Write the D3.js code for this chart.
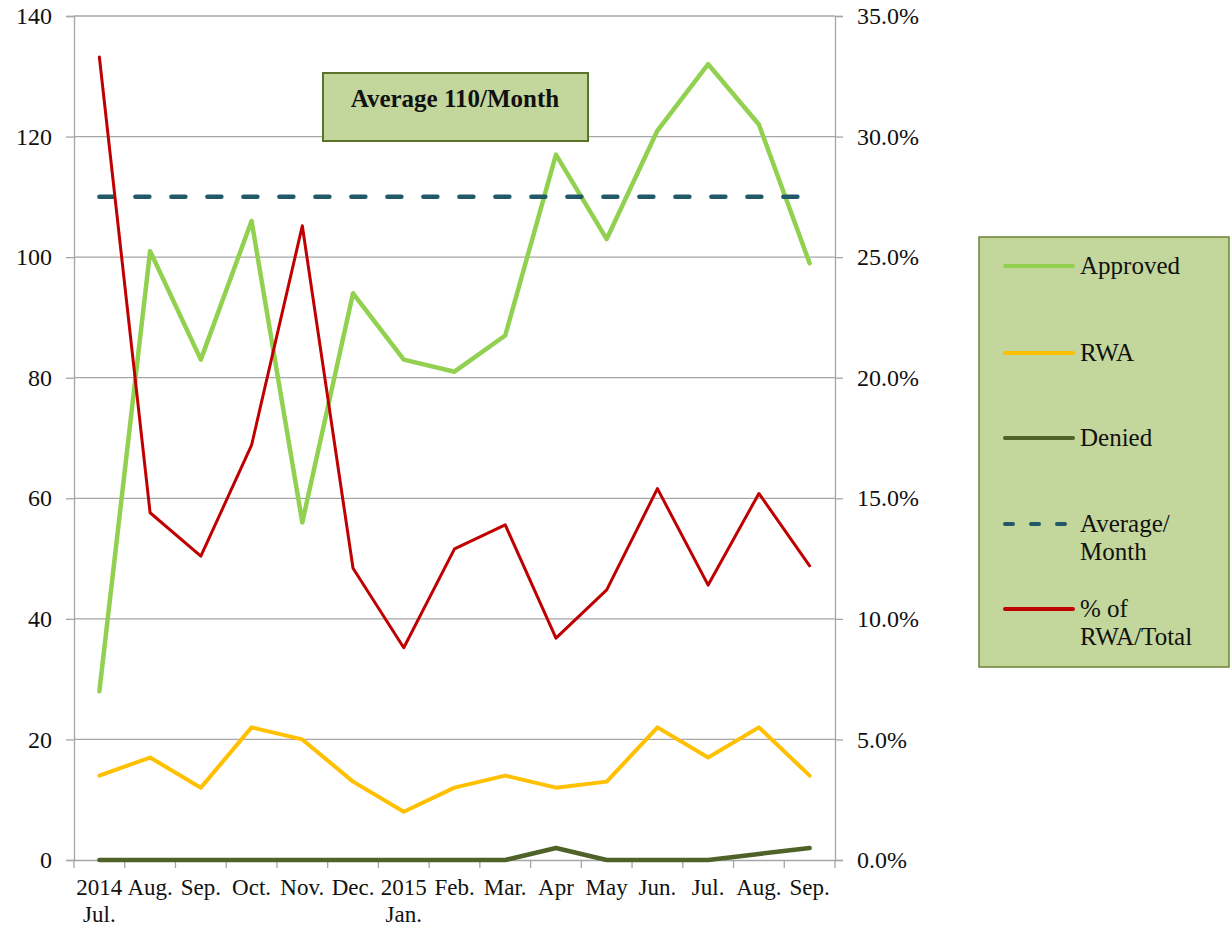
<!DOCTYPE html>
<html>
<head>
<meta charset="utf-8">
<script src="https://cdn.jsdelivr.net/npm/d3@7"></script>
<style>
  body { margin: 0; background: #fff; }
</style>
</head>
<body>
<div id="chart"></div>
<script>
// months, two-line labels
var months = [["2014","Jul."],["Aug."],["Sep."],["Oct."],["Nov."],["Dec."],["2015","Jan."],["Feb."],["Mar."],["Apr"],["May"],["Jun."],["Jul."],["Aug."],["Sep."]];

var approved = [28, 101, 83, 106, 56, 94, 83, 81, 87, 117, 103, 121, 132, 122, 99];
var rwa      = [14, 17, 12, 22, 20, 13, 8, 12, 14, 12, 13, 22, 17, 22, 14];
var denied   = [0, 0, 0, 0, 0, 0, 0, 0, 0, 2, 0, 0, 0, 1, 2];
var average  = 110;
var pctRwa   = [33.3, 14.4, 12.6, 17.2, 26.3, 12.1, 8.8, 12.9, 13.9, 9.2, 11.2, 15.4, 11.4, 15.2, 12.2];

var leftTicks  = [0, 20, 40, 60, 80, 100, 120, 140];
var rightTicks = [0, 5, 10, 15, 20, 25, 30, 35];

var W = 1231, H = 930;
var plotL = 74, plotR = 835, plotT = 16, plotB = 860;
var FONT = "'Liberation Serif'";

var svg = d3.select("#chart").append("svg")
  .attr("width", W).attr("height", H);

var x = d3.scaleBand().domain(d3.range(months.length)).range([plotL, plotR]);
var y = d3.scaleLinear().domain([0, 140]).range([plotB, plotT]);
var y2 = d3.scaleLinear().domain([0, 35]).range([plotB, plotT]);
var cx = function(i) { return x(i) + x.bandwidth() / 2; };

// gridlines
svg.append("g").selectAll("line")
  .data(leftTicks.filter(function(d) { return d > 0; }))
  .enter().append("line")
  .attr("x1", plotL).attr("x2", plotR)
  .attr("y1", function(d) { return y(d); }).attr("y2", function(d) { return y(d); })
  .attr("stroke", "#a6a6a6").attr("stroke-width", 1.3);

// left axis
var ly = svg.append("g").attr("transform", "translate(" + plotL + ",0)")
  .call(d3.axisLeft(y).tickValues(leftTicks).tickSize(8).tickPadding(14));
// right axis
var ry = svg.append("g").attr("transform", "translate(" + plotR + ",0)")
  .call(d3.axisRight(y2).tickValues(rightTicks).tickSize(8).tickPadding(14)
    .tickFormat(function(d) { return d.toFixed(1) + "%"; }));
// bottom axis
var bx = svg.append("g").attr("transform", "translate(0," + plotB + ")")
  .call(d3.axisBottom(x).tickSize(0).tickFormat(""));

[ly, ry, bx].forEach(function(g) {
  g.attr("font-family", null).attr("font-size", null);
  g.select(".domain").attr("stroke", "#a6a6a6").attr("stroke-width", 1.3);
  g.selectAll(".tick line").attr("stroke", "#a6a6a6").attr("stroke-width", 1.3);
  g.selectAll("text").style("font-family", FONT).style("font-size", "24px").attr("fill", "#111");
});

// x ticks at band edges
svg.append("g").selectAll("line")
  .data(d3.range(months.length + 1))
  .enter().append("line")
  .attr("x1", function(i) { return plotL + i * x.step(); })
  .attr("x2", function(i) { return plotL + i * x.step(); })
  .attr("y1", plotB).attr("y2", plotB + 8)
  .attr("stroke", "#a6a6a6").attr("stroke-width", 1.3);

// x labels
var xl = svg.append("g").selectAll("text")
  .data(months).enter().append("text")
  .attr("text-anchor", "middle")
  .style("font-family", FONT).style("font-size", "23px")
  .attr("fill", "#111")
  .attr("x", function(d, i) { return cx(i); })
  .attr("y", 895);
xl.selectAll("tspan").data(function(d) { return d; })
  .enter().append("tspan")
  .attr("x", function() { return d3.select(this.parentNode).attr("x"); })
  .attr("dy", function(d, j) { return j === 0 ? 0 : 27; })
  .text(function(d) { return d; });

// lines
var line = d3.line().x(function(d, i) { return cx(i); });

function drawSeries(vals, scale, color, width) {
  svg.append("path").datum(vals)
    .attr("fill", "none")
    .attr("stroke", color)
    .attr("stroke-width", width)
    .attr("stroke-linejoin", "round")
    .attr("stroke-linecap", "round")
    .attr("d", line.y(function(d) { return scale(d); }));
}

drawSeries(denied, y, "#4f6228", 4.5);
drawSeries(rwa, y, "#ffc000", 4);
drawSeries(approved, y, "#92d050", 4.5);

// average dashed
svg.append("line")
  .attr("x1", cx(0)).attr("x2", cx(months.length - 1))
  .attr("y1", y(average)).attr("y2", y(average))
  .attr("stroke", "#215968").attr("stroke-width", 4.5)
  .attr("stroke-dasharray", "14,22").attr("stroke-linecap", "round");

drawSeries(pctRwa, y2, "#c00000", 3);

// annotation box
svg.append("rect")
  .attr("x", 323).attr("y", 73).attr("width", 265).attr("height", 68)
  .attr("fill", "#c3d69b").attr("stroke", "#5a722a").attr("stroke-width", 2);
svg.append("text")
  .attr("x", 455).attr("y", 107)
  .attr("text-anchor", "middle")
  .attr("fill", "#111")
  .style("font-family", FONT).style("font-size", "25px").style("font-weight", "bold")
  .text("Average " + average + "/Month");

// legend
var legendItems = [
  { label: ["Approved"], color: "#92d050", dash: null, y: 266 },
  { label: ["RWA"], color: "#ffc000", dash: null, y: 353 },
  { label: ["Denied"], color: "#4f6228", dash: null, y: 438 },
  { label: ["Average/", "Month"], color: "#215968", dash: "8,18", y: 524 },
  { label: ["% of", "RWA/Total"], color: "#c00000", dash: null, y: 609 }
];

svg.append("rect")
  .attr("x", 979).attr("y", 237).attr("width", 250).attr("height", 430)
  .attr("fill", "#c3d69b").attr("stroke", "#6b8436").attr("stroke-width", 1.5);

var lg = svg.append("g").selectAll("g").data(legendItems).enter().append("g");
lg.append("line")
  .attr("x1", 1005).attr("x2", 1073)
  .attr("y1", function(d) { return d.y; }).attr("y2", function(d) { return d.y; })
  .attr("stroke", function(d) { return d.color; })
  .attr("stroke-width", 4)
  .attr("stroke-linecap", "round")
  .attr("stroke-dasharray", function(d) { return d.dash; });
var lt = lg.append("text")
  .attr("x", 1080)
  .attr("y", function(d) { return d.y + 8; })
  .attr("fill", "#111")
  .style("font-family", FONT).style("font-size", "25px");
lt.selectAll("tspan").data(function(d) { return d.label; })
  .enter().append("tspan")
  .attr("x", 1080)
  .attr("dy", function(d, j) { return j === 0 ? 0 : 28; })
  .text(function(d) { return d; });
</script>
</body>
</html>
